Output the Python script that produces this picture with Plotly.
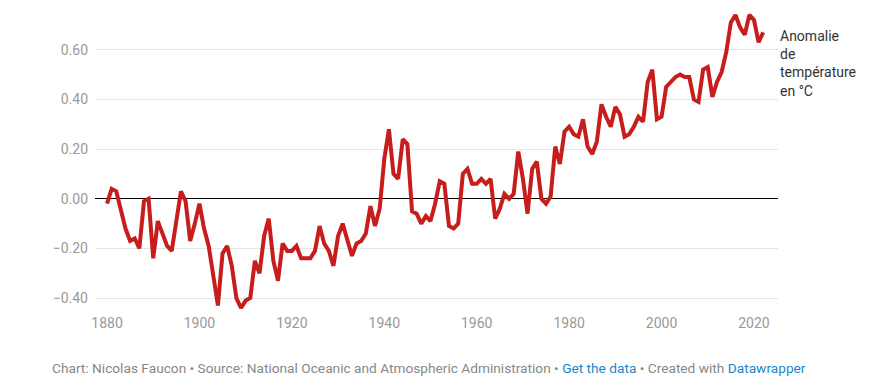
import plotly.graph_objects as go

years = list(range(1880, 2023))
anomaly = [
    -0.02, 0.04, 0.03, -0.04, -0.12, -0.17, -0.16, -0.20, -0.01, 0.00,   # 1880-1889
    -0.24, -0.09, -0.14, -0.19, -0.21, -0.09, 0.03, -0.01, -0.17, -0.10,  # 1890-1899
    -0.02, -0.12, -0.19, -0.31, -0.43, -0.22, -0.19, -0.27, -0.40, -0.44, # 1900-1909
    -0.41, -0.40, -0.25, -0.30, -0.15, -0.08, -0.25, -0.33, -0.18, -0.21, # 1910-1919
    -0.21, -0.19, -0.24, -0.24, -0.24, -0.21, -0.11, -0.18, -0.21, -0.27, # 1920-1929
    -0.15, -0.10, -0.17, -0.23, -0.18, -0.17, -0.14, -0.03, -0.11, -0.04, # 1930-1939
    0.16, 0.28, 0.10, 0.08, 0.24, 0.22, -0.05, -0.06, -0.10, -0.07,       # 1940-1949
    -0.09, -0.02, 0.07, 0.06, -0.11, -0.12, -0.10, 0.10, 0.12, 0.06,      # 1950-1959
    0.06, 0.08, 0.06, 0.08, -0.08, -0.04, 0.02, 0.00, 0.02, 0.19,         # 1960-1969
    0.08, -0.06, 0.12, 0.15, 0.00, -0.02, 0.01, 0.21, 0.14, 0.27,         # 1970-1979
    0.29, 0.26, 0.25, 0.32, 0.21, 0.18, 0.23, 0.38, 0.33, 0.29,           # 1980-1989
    0.37, 0.34, 0.25, 0.26, 0.29, 0.33, 0.31, 0.47, 0.52, 0.32,           # 1990-1999
    0.33, 0.45, 0.47, 0.49, 0.50, 0.49, 0.49, 0.40, 0.39, 0.52,           # 2000-2009
    0.53, 0.41, 0.47, 0.51, 0.59, 0.71, 0.74, 0.69, 0.66, 0.74,           # 2010-2019
    0.72, 0.63, 0.67,                                                     # 2020-2022
]

y_ticks = [-0.4, -0.2, 0.0, 0.2, 0.4, 0.6]
y_tick_labels = ["\u22120.40", "\u22120.20", "0.00", "0.20", "0.40", "0.60"]
x_ticks = [1880, 1900, 1920, 1940, 1960, 1980, 2000, 2020]

fig = go.Figure()
fig.add_trace(go.Scatter(
    x=years, y=anomaly, mode="lines",
    line=dict(color="#c71e1d", width=4, shape="linear"),
    hoverinfo="x+y", showlegend=False,
))

fig.update_layout(
    width=896, height=382,
    margin=dict(l=95, r=118, t=5, b=69),
    paper_bgcolor="white", plot_bgcolor="white",
    font=dict(family="Roboto, sans-serif", color="#999999", size=14),
    xaxis=dict(
        range=[1877.4, 2025.2], tickvals=x_ticks, showgrid=False,
        zeroline=False, showline=False, ticks="", tickfont=dict(color="#999999", size=14),
        fixedrange=True,
    ),
    yaxis=dict(
        range=[-0.46, 0.78], tickvals=y_ticks, ticktext=y_tick_labels,
        showgrid=True, gridcolor="#e6e6e6", gridwidth=1,
        zeroline=True, zerolinecolor="#000000", zerolinewidth=1,
        showline=False, ticks="", ticklabelstandoff=6,
        tickfont=dict(color="#999999", size=14), fixedrange=True,
    ),
    annotations=[
        dict(
            xref="paper", yref="paper", x=1.0, y=0.81, xanchor="left", yanchor="middle",
            xshift=0,
            text="Anomalie<br>de<br>température<br>en °C",
            showarrow=False, align="left",
            font=dict(family="Roboto, sans-serif", size=14, color="#333333"),
        ),
        dict(
            xref="paper", yref="paper", x=0, y=0, xshift=-45, yshift=-55,
            xanchor="left", yanchor="middle", showarrow=False, align="left",
            text=("Chart: Nicolas Faucon • Source: National Oceanic and Atmospheric Administration • "
                  "<span style='color:#1b87c9'>Get the data</span> • Created with "
                  "<span style='color:#1b87c9'>Datawrapper</span>"),
            font=dict(family="Roboto, sans-serif", size=13.7, color="#888888"),
        ),
    ],
)

fig.write_html("out.html", config={"displayModeBar": False})

with open("out.html", "r", encoding="utf-8") as f:
    html = f.read()
html = html.replace("<head>", "<head><style>html,body{margin:0;padding:0;overflow:hidden;}</style>", 1)
with open("out.html", "w", encoding="utf-8") as f:
    f.write(html)
